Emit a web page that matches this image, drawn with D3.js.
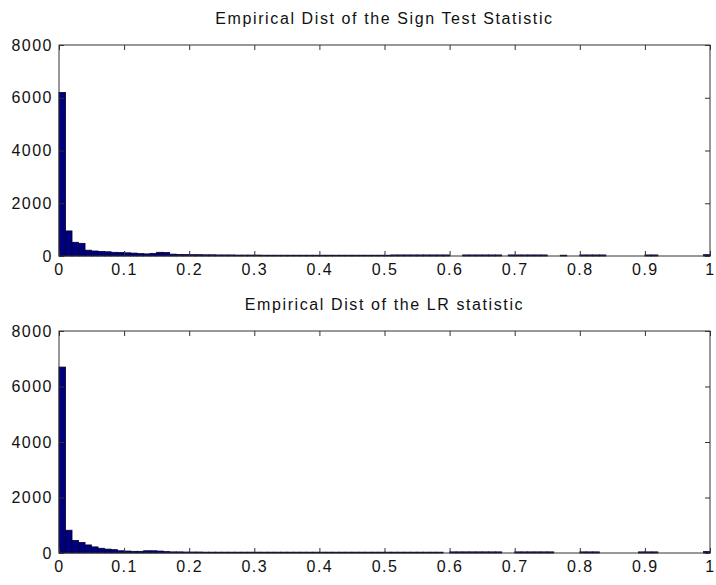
<!DOCTYPE html>
<html>
<head>
<meta charset="utf-8">
<script src="https://cdn.jsdelivr.net/npm/d3@7/dist/d3.min.js"></script>
<style>
  body { margin: 0; background: #fff; }
  svg text { font-family: "Liberation Sans", Arial, sans-serif; fill: #111; }
</style>
</head>
<body>
<div id="chart"></div>
<script>
const width = 716, height = 585;

// histogram counts, 100 bins of width 0.01 on [0, 1]
const binWidth = 0.01;
const signCounts = [
  6200, 950, 520, 480, 220, 190, 170, 160, 140, 130,
  120, 110, 90, 80, 100, 140, 130, 70, 60, 55,
  50, 50, 45, 45, 40, 40, 40, 35, 35, 35,
  35, 30, 30, 30, 30, 30, 30, 30, 30, 30,
  30, 30, 30, 30, 30, 30, 30, 30, 30, 30,
  30, 40, 40, 40, 40, 40, 40, 40, 40, 40,
  0, 0, 40, 40, 40, 40, 40, 40, 0, 40,
  40, 40, 40, 40, 40, 0, 0, 30, 0, 0,
  40, 40, 40, 40, 0, 0, 0, 0, 0, 0,
  40, 40, 0, 0, 0, 0, 0, 0, 0, 50
];
const lrCounts = [
  6700, 820, 450, 380, 290, 220, 170, 140, 120, 80,
  70, 60, 60, 80, 80, 70, 50, 40, 40, 35,
  35, 35, 30, 30, 30, 30, 30, 30, 30, 30,
  30, 30, 30, 30, 30, 30, 30, 30, 30, 30,
  30, 30, 30, 30, 30, 30, 30, 30, 30, 30,
  30, 30, 30, 30, 30, 30, 30, 30, 30, 0,
  40, 40, 40, 40, 40, 40, 40, 40, 0, 0,
  40, 40, 40, 40, 40, 40, 0, 0, 0, 0,
  40, 40, 40, 0, 0, 0, 0, 0, 0, 40,
  40, 40, 0, 0, 0, 0, 0, 0, 0, 50
];
const xTicks = [0, 0.1, 0.2, 0.3, 0.4, 0.5, 0.6, 0.7, 0.8, 0.9, 1];
const yTicks = [0, 2000, 4000, 6000, 8000];

const panels = [
  {title: "Empirical Dist of the Sign Test Statistic", counts: signCounts, top: 45, bottom: 256},
  {title: "Empirical Dist of the LR statistic", counts: lrCounts, top: 331, bottom: 553}
];

const left = 59, right = 710;

const svg = d3.select("#chart").append("svg")
  .attr("width", width)
  .attr("height", height);

const x = d3.scaleLinear().domain([0, 1]).range([left, right]);

panels.forEach(p => {
  const y = d3.scaleLinear().domain([0, 8000]).range([p.bottom, p.top]);
  const g = svg.append("g");

  // bars
  g.selectAll("rect")
    .data(p.counts.map((c, i) => ({x0: i * binWidth, c: c})).filter(d => d.c > 0))
    .enter().append("rect")
    .attr("x", d => x(d.x0))
    .attr("width", d => x(d.x0 + binWidth) - x(d.x0))
    .attr("y", d => y(d.c))
    .attr("height", d => p.bottom - y(d.c))
    .attr("fill", "#00007f")
    .attr("stroke", "#000033")
    .attr("stroke-width", 0.8);

  // box
  g.append("rect")
    .attr("x", left).attr("y", p.top)
    .attr("width", right - left).attr("height", p.bottom - p.top)
    .attr("fill", "none").attr("stroke", "#333").attr("stroke-width", 1);

  // inward ticks, all four sides
  const tl = 5;
  const bottomAxis = d3.axisBottom(x).tickValues(xTicks).tickSizeInner(-tl).tickSizeOuter(0)
    .tickPadding(8).tickFormat(d => d === 0 || d === 1 ? d3.format("d")(d) : d3.format(".1f")(d));
  const gb = g.append("g").attr("transform", `translate(0,${p.bottom})`).call(bottomAxis);
  const topAxis = d3.axisTop(x).tickValues(xTicks).tickSizeInner(-tl).tickSizeOuter(0).tickFormat("");
  const gt = g.append("g").attr("transform", `translate(0,${p.top})`).call(topAxis);
  const leftAxis = d3.axisLeft(y).tickValues(yTicks).tickSizeInner(-tl).tickSizeOuter(0)
    .tickPadding(6).tickFormat(d3.format("d"));
  const gl = g.append("g").attr("transform", `translate(${left},0)`).call(leftAxis);
  const rightAxis = d3.axisRight(y).tickValues(yTicks).tickSizeInner(-tl).tickSizeOuter(0).tickFormat("");
  const gr = g.append("g").attr("transform", `translate(${right},0)`).call(rightAxis);

  [gb, gt, gl, gr].forEach(a => {
    a.select(".domain").remove();
    a.selectAll("line").attr("stroke", "#333");
    a.selectAll("text").style("font-size", "16px").style("letter-spacing", "1.5px").attr("fill", "#111");
  });

  // title
  g.append("text")
    .attr("x", (left + right) / 2)
    .attr("y", p.top - 21)
    .attr("text-anchor", "middle")
    .style("font-size", "16px")
    .style("letter-spacing", "1.6px")
    .text(p.title);
});
</script>
</body>
</html>
